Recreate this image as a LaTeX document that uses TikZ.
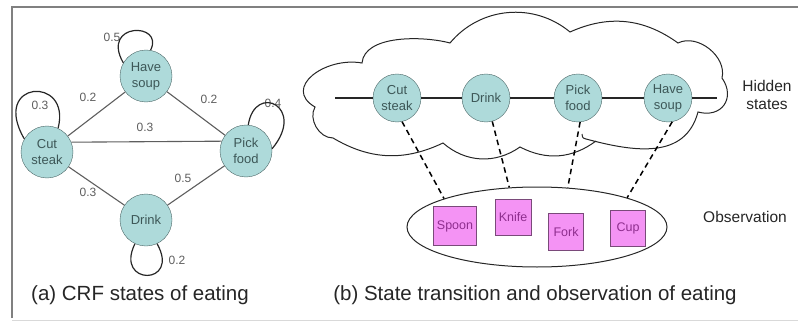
\documentclass[tikz,border=0pt]{standalone}
\usepackage{fontspec}
\setmainfont{Liberation Sans}
\usepackage{tikz}
\usetikzlibrary{arrows, shapes.geometric}
\usetikzlibrary{positioning}

\definecolor{stateteal}{HTML}{AEDADA}
\definecolor{stateedge}{HTML}{4A6464}
\definecolor{statetext}{HTML}{3D5757}
\definecolor{itempink}{HTML}{F493F4}
\definecolor{itemedge}{HTML}{7A4A7A}
\definecolor{itemtext}{HTML}{8E2E8E}
\definecolor{linkgray}{HTML}{5E5E5E}

\tikzstyle{state_node} = [
    circle,
    draw=stateedge,
    fill=stateteal,
    text=statetext,
    align=center,
    inner sep=0pt,
    minimum size=52pt, % 48pt for the hidden chain
    font=\fontsize{13}{16}\selectfont
]
\tikzstyle{hidden_node} = [
    state_node,
    minimum size=48pt
]
\tikzstyle{item_box} = [
    rectangle,
    draw=itemedge,
    fill=itempink,
    text=itemtext,
    inner sep=0pt,
    minimum width=36pt,
    minimum height=36pt,
    font=\fontsize{12.5}{15}\selectfont
]
\tikzstyle{prob_label} = [
    text=linkgray,
    inner sep=0pt,
    font=\fontsize{12}{14}\selectfont
]
\tikzstyle{plain_text} = [
    align=center,
    inner sep=0pt,
    text=black!85,
    font=\fontsize{15.5}{18}\selectfont
]
\tikzstyle{caption} = [
    inner sep=0pt,
    text=black!85,
    font=\fontsize{20.5}{24}\selectfont
]

\begin{document}
\begin{tikzpicture}[
    x=1pt, y=1pt,
    link/.style={draw=linkgray, line width=1.1pt},
    self_loop/.style={draw=black!85, line width=1.2pt},
    chain_line/.style={draw=black!85, line width=1.3pt},
    obs_link/.style={draw=black, line width=1.5pt, dash pattern=on 5.5pt off 4pt}
]
\useasboundingbox (0,0) rectangle (798,322);
\draw[black!50, line width=1.5pt] (12,4) -- (12,315) -- (798,315);
\draw[black!15, line width=1pt] (12,2) -- (798,2);

% (a) CRF states
\node[state_node] (cut)   at (47,170)  {Cut\\steak};
\node[state_node] (soup)  at (146,246) {Have\\soup};
\node[state_node] (pick)  at (246,171) {Pick\\food};
\node[state_node] (drink) at (146,102) {Drink};

\draw[link] (cut) -- (soup);
\draw[link] (soup) -- (pick);
\draw[link] (cut.22) -- (pick.158);
\draw[link] (cut) -- (drink);
\draw[link] (drink) -- (pick);

\node[prob_label] (p_cs) at (88,225)  {0.2};
\node[prob_label] (p_sp) at (209,223) {0.2};
\node[prob_label] (p_cp) at (145,195) {0.3};
\node[prob_label] (p_cd) at (88,130)  {0.3};
\node[prob_label] (p_dp) at (183,144) {0.5};

\node[prob_label] (p_ss) at (112,285) {0.5};
\node[prob_label] (p_cc) at (40,217)  {0.3};
\node[prob_label] (p_pp) at (273,219) {0.4};
\node[prob_label] (p_dd) at (177,62)  {0.2};

\draw[self_loop] (soup.150) .. controls (100,300) and (165,300) .. (soup.80);
\draw[self_loop] (cut.150) .. controls (-10,242) and (72,247) .. (cut.65);
\draw[self_loop] (pick.85) .. controls (255,240) and (307,215) .. (pick.5);
\draw[self_loop] (drink.245) .. controls (114,36) and (181,36) .. (drink.295);

\node[caption] (cap_a) at (140,27) {(a) CRF states of eating};

% (b) hidden chain inside the cloud
\draw[black!85, line width=1pt]
    (596,181) to[bend left=32] (520,175)
    to[bend left=38] (443,179)
    to[bend left=28] (333,184)
    to[bend left=60] (315,215)
    to[out=150, in=170, looseness=1.5] (362,259)
    to[out=85, in=165, looseness=0.8] (450,279)
    to[bend left=45] (570,290)
    to[bend left=30] (678,279)
    to[bend left=65] (722,244)
    to[bend left=70, looseness=1.5] (698,210)
    to[out=-105, in=-15, looseness=1.1] (586,183)
    to[out=165, in=-80, looseness=1.5] (582,188);

\node[hidden_node] (h_cut)   at (397,224) {Cut\\steak};
\node[hidden_node] (h_drink) at (486,224) {Drink};
\node[hidden_node] (h_pick)  at (578,224) {Pick\\food};
\node[hidden_node] (h_soup)  at (668,224) {Have\\soup};
\coordinate (h_start) at (335,224);
\coordinate (h_end)   at (717,224);

\draw[chain_line] (h_start) -- (h_cut) -- (h_drink) -- (h_pick) -- (h_soup) -- (h_end);

\node[plain_text] (hidden_lbl) at (767,227) {Hidden\\states};

% observation
\node[ellipse, draw=black!85, line width=1pt, minimum width=260pt,
      minimum height=80pt, inner sep=0pt] (obs) at (537,95) {};
\node[item_box, minimum width=43pt, minimum height=39pt] (spoon) at (455,96) {Spoon};
\node[item_box] (knife) at (513,105) {Knife};
\node[item_box, minimum width=35pt, minimum height=37pt] (fork) at (566,90) {Fork};
\node[item_box, minimum width=35pt] (cup) at (628,94) {Cup};

\draw[obs_link] (h_cut.-78) -- (obs.163);
\draw[obs_link] (h_drink.-75) -- (obs.125);
\draw[obs_link] (h_pick.-85) -- (obs.52);
\draw[obs_link] (h_soup.-80) -- (obs.18);

\node[plain_text] (obs_lbl) at (745,105) {Observation};

\node[caption] (cap_b) at (535,27) {(b) State transition and observation of eating};
\end{tikzpicture}
\end{document}
